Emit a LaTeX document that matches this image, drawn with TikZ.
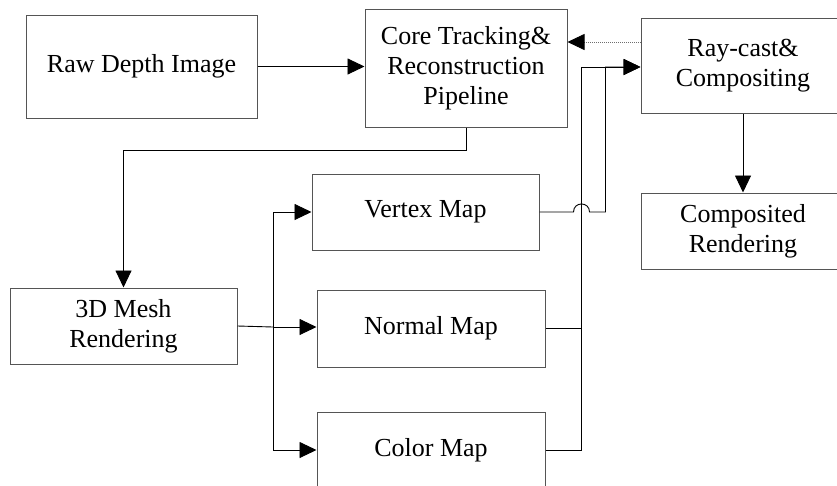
\documentclass[tikz,border=0pt]{standalone}
\usepackage{fontspec}
\setmainfont{Liberation Serif}
\usetikzlibrary{arrows.meta,calc}
\definecolor{boxline}{RGB}{85,85,85}
\definecolor{dotgray}{RGB}{110,110,110}
\tikzset{
  basebox/.style={rectangle,draw=boxline,line width=1pt,align=center,inner sep=0pt,font=\fontsize{26}{30}\selectfont},
  stagenode/.style={basebox,minimum width=227pt,minimum height=76pt},
  link/.style={line width=0.9pt,color=black},
  arr/.style={link,-{Triangle[length=17pt,width=16pt]}},
  dotarr/.style={line width=0.8pt,color=dotgray,dash pattern=on 1pt off 1pt,-{Triangle[length=17pt,width=16pt,color=black]}}
}

\begin{document}
\begin{tikzpicture}[x=1pt,y=-1pt]
  \useasboundingbox (0,0) rectangle (837,485);

  \node[basebox,minimum width=231pt,minimum height=103pt] (raw) at (141.5,66.5) {Raw Depth Image};
  \node[basebox,minimum width=202pt,minimum height=118pt] (core) at (466,68) {Core Tracking\&\\Reconstruction\\Pipeline};
  \node[basebox,minimum width=204pt,minimum height=95pt] (ray) at (743,65.5) {Ray-cast\&\\Compositing};
  \node[basebox,minimum width=204pt,minimum height=76pt] (comp) at (743,231) {Composited\\Rendering};
  \node[stagenode] (vertex) at (425.5,212) {Vertex Map};
  \node[stagenode] (mesh) at (123.5,326) {3D Mesh\\Rendering};
  \node[stagenode,minimum width=228pt,minimum height=77pt] (normal) at (431,328.5) {Normal Map};
  \node[stagenode,minimum width=228pt] (color) at (431,450) {Color Map};

  \coordinate (split) at (273,327);
  \coordinate (bus) at (581.5,67);
  \coordinate (raydot) at ([yshift=23.5pt]ray.west);

  % top row
  \draw[arr] (raw.east) -- (core.west |- raw.east);
  \draw[dotarr] (raydot) -- (raydot -| core.east);
  \draw[arr] (core.south) -- ++(0,23) -| (mesh.north);
  \draw[arr] (ray.south) -- (comp.north);

  % fan out of the mesh rendering
  \draw[link] (mesh.east) -- (split);
  \draw[arr] (split) -- (split -| normal.west);
  \draw[arr] (split) |- (vertex.west);
  \draw[arr] (split) |- (color.west);

  % maps back to ray-cast
  \draw[link] (normal.east) -- (normal.east -| bus);
  \draw[link] (color.east) -- (color.east -| bus) -- (bus);
  \draw[arr] (bus) -- (bus -| ray.west);
  \draw[arr] (vertex.east) -- ($(vertex.east -| bus)+(-8,0)$)
    .. controls +(0,-10.7) and +(0,-10.7) .. ($(vertex.east -| bus)+(8,0)$)
    -- ++(16,0) |- (bus -| ray.west);
\end{tikzpicture}
\end{document}
